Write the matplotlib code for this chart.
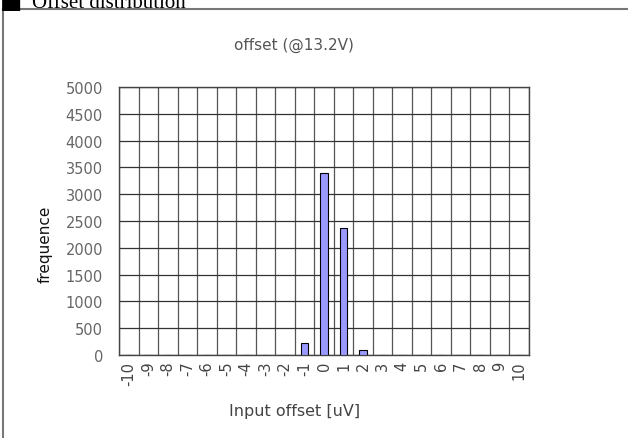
import matplotlib.pyplot as plt
import numpy as np

### data ###
offsets = list(range(-10, 11))
counts = [0, 0, 0, 0, 0, 0, 0, 0, 0, 230, 3400, 2370, 90,
          0, 0, 0, 0, 0, 0, 0, 0]
yticks = [0, 500, 1000, 1500, 2000, 2500, 3000, 3500, 4000, 4500, 5000]

plt.rcParams['font.family'] = ['DejaVu Sans']

W, H = 628, 439
fig = plt.figure(figsize=(W/100, H/100), dpi=100)
ax = fig.add_axes([119/W, 1-356/H, 410/W, 268/H])

x = np.arange(len(offsets))
ax.bar(x, counts, width=0.4, color='#9999ff', edgecolor='black', linewidth=0.8, zorder=3)

ax.set_xlim(-0.5, len(offsets)-0.5)
ax.set_ylim(0, 5000)
ax.set_yticks(yticks)
ax.set_xticks(x)
ax.set_xticklabels([str(v) for v in offsets], rotation=90, va='top', fontsize=10.5, color='#444444')
ax.set_yticklabels([str(v) for v in yticks], fontsize=10.5, color='#666666')
ax.tick_params(axis='both', length=0)
ax.tick_params(axis='y', pad=11.5)
ax.tick_params(axis='x', pad=4)

# grid: horizontal at ticks, vertical between categories
ax.set_xticks(np.arange(-0.5, len(offsets), 1), minor=True)
ax.grid(which='major', axis='y', color='#333333', linewidth=0.9, zorder=0)
ax.grid(which='minor', axis='x', color='#555555', linewidth=0.9, zorder=0)
ax.tick_params(which='minor', length=0)
for s in ax.spines.values():
    s.set_color('#444444')
    s.set_linewidth(1.0)

# chart texts, centred on the chart area rather than the plot
fig.text(294/W, 1-45/H, 'offset (@13.2V)', fontsize=11, color='#555555', ha='center', va='center')
fig.text(45/W, 1-244/H, 'frequence', fontsize=11, color='#111111', rotation=90, ha='center', va='center')
fig.text(295/W, 1-412/H, 'Input offset [uV]', fontsize=11.5, color='#444444', ha='center', va='center')

# outer frame (left and top only) and clipped section heading
fig.add_artist(plt.Line2D([3/W, 3/W], [0, 1-10/H], color='#777777', linewidth=1.5))
fig.add_artist(plt.Line2D([3/W, 1], [1-10/H, 1-10/H], color='#777777', linewidth=1.5))
fig.text(0/W, 1-8/H, '\u25a0', fontsize=17, color='black', va='baseline', ha='left')
fig.text(32/W, 1-8/H, 'Offset distribution', fontsize=15, family=['Liberation Serif', 'DejaVu Serif'],
         va='baseline', ha='left', color='black')

fig.savefig('out.png', dpi=100)
